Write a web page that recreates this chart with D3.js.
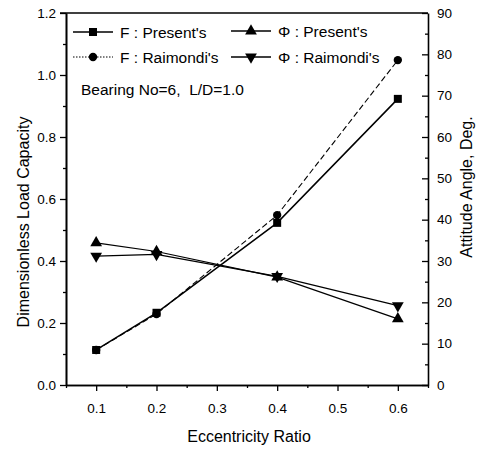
<!DOCTYPE html>
<html><head><meta charset="utf-8">
<script src="https://cdn.jsdelivr.net/npm/d3@7"></script>
<style>body{margin:0;background:#fff}svg{display:block;font-family:"Liberation Sans",Arial,sans-serif}</style>
</head><body><svg id="c" width="481" height="451"></svg>
<script>
const ecc = [0.1, 0.2, 0.4, 0.6];
const fPresent = [0.113, 0.233, 0.523, 0.923];
const fRaimondi = [0.113, 0.229, 0.548, 1.048];
const phiPresent = [34.4, 32.3, 26.1, 16.0];
const phiRaimondi = [31.2, 31.6, 26.3, 19.2];
const xTicks = [0.1, 0.2, 0.3, 0.4, 0.5, 0.6];
const xMinor = [0.05, 0.15, 0.25, 0.35, 0.45, 0.55, 0.65];
const yLTicks = [0, 0.2, 0.4, 0.6, 0.8, 1.0, 1.2];
const yLMinor = [0.1, 0.3, 0.5, 0.7, 0.9, 1.1];
const yRTicks = [0, 10, 20, 30, 40, 50, 60, 70, 80, 90];
const yRMinor = [5, 15, 25, 35, 45, 55, 65, 75, 85];
const legendLabels = ["F : Present's", "F : Raimondi's", "\u03A6 : Present's", "\u03A6 : Raimondi's"];
const noteText = "Bearing No=6,\u00A0 L/D=1.0";

const svg = d3.select("#c");
const L = 66, R = 428, T = 13, B = 385;
const x = d3.scaleLinear().domain([0.05, 0.65]).range([L, R]);
const yL = d3.scaleLinear().domain([0, 1.2]).range([B, T]);
const yR = d3.scaleLinear().domain([0, 90]).range([B, T]);

function axisG(axis, tx, ty) {
  const g = svg.append("g").attr("transform", `translate(${tx},${ty})`).call(axis);
  g.select(".domain").attr("stroke", "#000").attr("stroke-width", 1.6);
  g.selectAll(".tick line").attr("stroke", "#000").attr("stroke-width", 1.3);
  g.selectAll("text").attr("fill", "#000").attr("font-size", 13.5);
  return g;
}
// minor ticks
axisG(d3.axisBottom(x).tickValues(xMinor).tickSize(3).tickFormat("").tickSizeOuter(0), 0, B);
axisG(d3.axisLeft(yL).tickValues(yLMinor).tickSize(3).tickFormat("").tickSizeOuter(0), L, 0);
axisG(d3.axisLeft(yR).tickValues(yRMinor).tickSize(3).tickFormat("").tickSizeOuter(0), R, 0)
  .select(".domain").remove();
// major
axisG(d3.axisBottom(x).tickValues(xTicks).tickSize(6).tickPadding(12).tickFormat(d3.format(".1f")).tickSizeOuter(0), 0, B);
axisG(d3.axisLeft(yL).tickValues(yLTicks).tickSize(6).tickPadding(4).tickFormat(d3.format(".1f")).tickSizeOuter(0), L, 0);
const gr = axisG(d3.axisLeft(yR).tickValues(yRTicks).tickSize(6).tickFormat(d3.format("d")).tickSizeOuter(0), R, 0);
gr.selectAll("text").attr("text-anchor", "start").attr("x", 9);
// top frame
svg.append("line").attr("x1", L - 6).attr("x2", R).attr("y1", T).attr("y2", T).attr("stroke", "#000").attr("stroke-width", 1.6);

// titles
svg.append("text").attr("x", (L + R) / 2 + 2).attr("y", 442).attr("text-anchor", "middle").attr("font-size", 16).text("Eccentricity Ratio");
svg.append("text").attr("transform", "translate(29,222) rotate(-90)").attr("text-anchor", "middle").attr("font-size", 16).text("Dimensionless Load Capacity");
svg.append("text").attr("transform", "translate(472,187) rotate(-90)").attr("text-anchor", "middle").attr("font-size", 16).text("Attitude Angle, Deg.");

// series
const series = [
  { vals: fPresent, y: yL, dash: null, w: 1.5, sym: d3.symbolSquare, size: 64, rot: 0 },
  { vals: fRaimondi, y: yL, dash: "6,3", w: 1.1, sym: d3.symbolCircle, size: 55, rot: 0 },
  { vals: phiPresent, y: yR, dash: null, w: 1.2, sym: d3.symbolTriangle, size: 60, rot: 0 },
  { vals: phiRaimondi, y: yR, dash: null, w: 1.2, sym: d3.symbolTriangle, size: 60, rot: 180 }
];
series.forEach(s => {
  const line = d3.line().x((d, i) => x(ecc[i])).y(d => s.y(d));
  svg.append("path").datum(s.vals).attr("d", line).attr("fill", "none").attr("stroke", "#000")
    .attr("stroke-width", s.w).attr("stroke-dasharray", s.dash);
  svg.selectAll(null).data(s.vals).enter().append("path")
    .attr("d", d3.symbol().type(s.sym).size(s.size))
    .attr("transform", (d, i) => `translate(${x(ecc[i])},${s.y(d)}) rotate(${s.rot})`)
    .attr("fill", "#000");
});

// legend
const leg = [
  { lx: 73, y: 32, s: series[0], dash: null, label: legendLabels[0] },
  { lx: 73, y: 57, s: series[1], dash: "1.5,1.5", label: legendLabels[1] },
  { lx: 231, y: 31, s: series[2], dash: null, label: legendLabels[2] },
  { lx: 231, y: 57, s: series[3], dash: null, label: legendLabels[3] }
];
leg.forEach(e => {
  svg.append("line").attr("x1", e.lx).attr("x2", e.lx + 40).attr("y1", e.y).attr("y2", e.y)
    .attr("stroke", "#000").attr("stroke-width", e.dash ? 1 : 1.3).attr("stroke-dasharray", e.dash);
  svg.append("path").attr("d", d3.symbol().type(e.s.sym).size(e.s.size))
    .attr("transform", `translate(${e.lx + 20},${e.y}) rotate(${e.s.rot})`).attr("fill", "#000");
  svg.append("text").attr("x", e.lx + 47).attr("y", e.y + 6).attr("font-size", 15.5).text(e.label);
});
svg.append("text").attr("x", 81).attr("y", 95).attr("font-size", 15.5).text(noteText);
</script></body></html>
